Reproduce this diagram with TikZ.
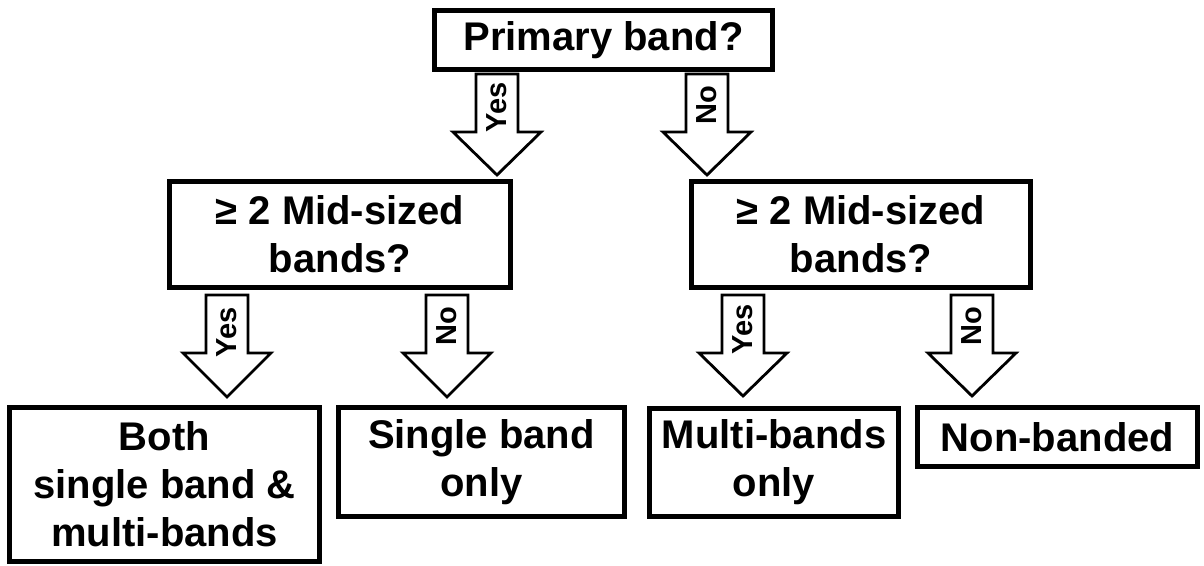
\documentclass[tikz,border=0pt]{standalone}
\usepackage{fontspec}
\setmainfont{Liberation Sans}
\newcommand\boxfont{\bfseries\fontsize{40}{48}\selectfont}
\newcommand\labfont{\bfseries\fontsize{29}{32}\selectfont}
% block arrow: #1 centre x, #2 top y, #3 head base y, #4 tip y
\newcommand\blockarrow[4]{%
  \draw[barrow] (#1-21,#2) -- (#1+21,#2) -- (#1+21,#3) -- (#1+44,#3)
    -- (#1,#4) -- (#1-44,#3) -- (#1-21,#3) -- cycle;}
\tikzset{
  box/.style={draw, line width=4.2pt, line join=miter, align=center,
    inner sep=0pt, font=\boxfont},
  barrow/.style={draw, line width=2.8pt, line join=miter, fill=white},
  lab/.style={rotate=90, font=\labfont, inner sep=0pt}
}
\begin{document}
\begin{tikzpicture}[x=1pt, y=-1pt]
\useasboundingbox (0,0) rectangle (1204,565);
% decision boxes
\node[box, minimum width=338pt, minimum height=59pt] (top) at (603.5,40) {Primary band?};
\node[box, minimum width=341pt, minimum height=106pt] (midL) at (340,234.5) {≥ 2 Mid-sized\\bands?};
\node[box, minimum width=339pt, minimum height=106pt] (midR) at (861,234.5) {≥ 2 Mid-sized\\bands?};
% outcome boxes
\node[box, minimum width=310pt, minimum height=154pt] (both) at (164.5,484.5) {Both\\single band \&\\multi-bands};
\node[box, minimum width=286pt, minimum height=109pt] (single) at (481.5,462) {Single band\\only};
\node[box, minimum width=249pt, minimum height=108pt] (multi) at (774,462.5) {Multi-bands\\only};
\node[box, minimum width=280pt, minimum height=59pt] (none) at (1057.5,437) {Non-banded};
% branches
\blockarrow{497}{74}{132}{175}
\node[lab] (y1) at (497,107) {Yes};
\blockarrow{707}{74}{132}{175}
\node[lab] (n1) at (707,105) {No};
\blockarrow{227}{295}{353}{397}
\node[lab] (y2) at (227,332) {Yes};
\blockarrow{447}{295}{353}{397}
\node[lab] (n2) at (447,326) {No};
\blockarrow{743}{295}{353}{396}
\node[lab] (y3) at (743,329) {Yes};
\blockarrow{972}{295}{353}{396}
\node[lab] (n3) at (972,326) {No};
\end{tikzpicture}
\end{document}
